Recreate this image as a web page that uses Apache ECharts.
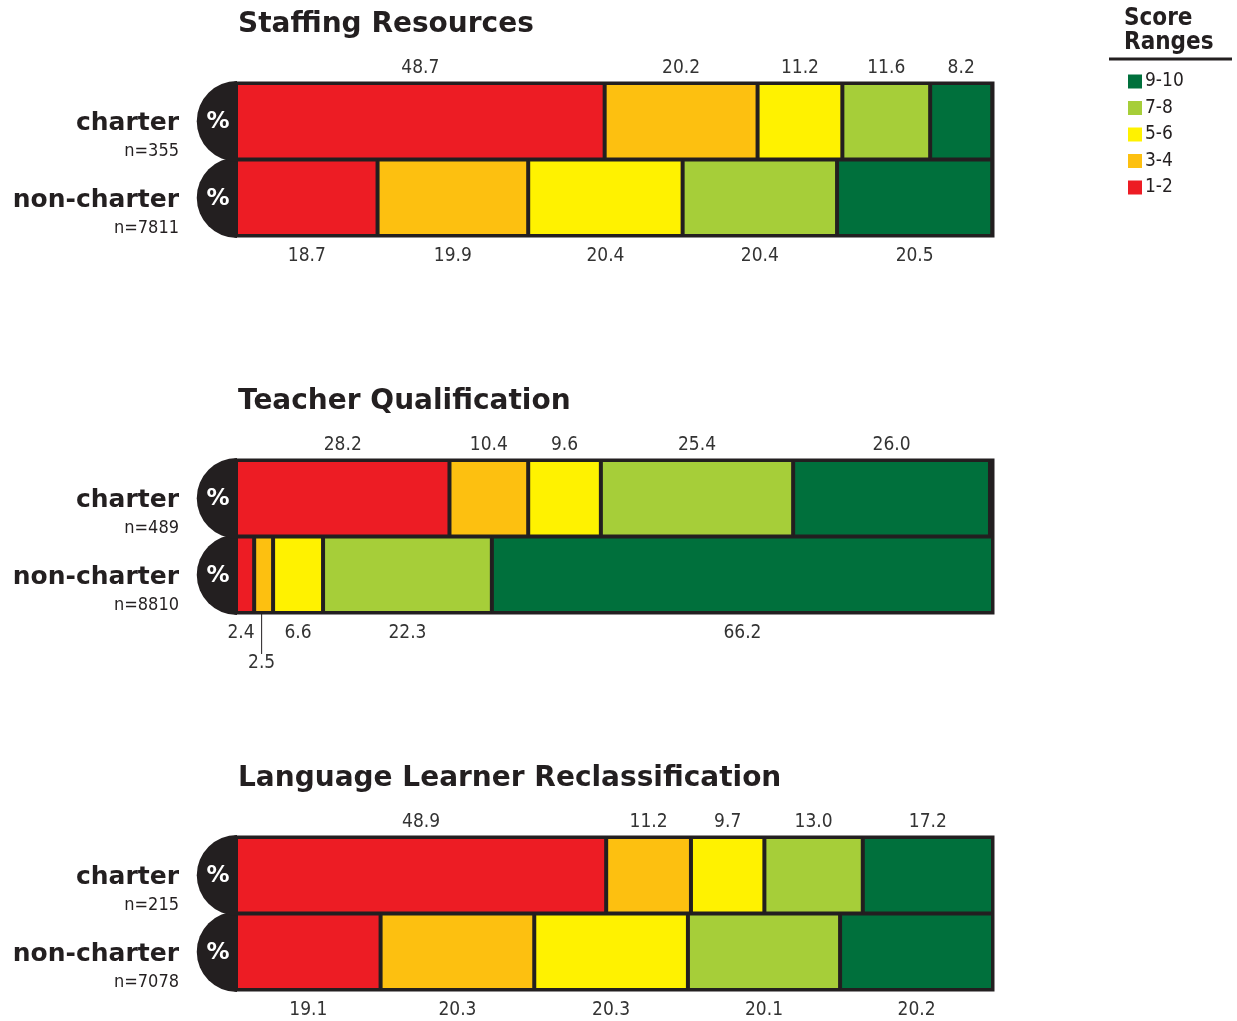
<!DOCTYPE html>
<html>
<head>
<meta charset="utf-8">
<script src="https://cdn.jsdelivr.net/npm/echarts@6/dist/echarts.min.js"></script>
<style>
  html, body { margin: 0; padding: 0; background: #fff; }
  #chart { width: 1237px; height: 1021px; }
</style>
</head>
<body>
<div id="chart"></div>
<script>
// 数据
const categories = ["non-charter", "charter"];
const ranges = ["1-2", "3-4", "5-6", "7-8", "9-10"];
const legendOrder = ["9-10", "7-8", "5-6", "3-4", "1-2"];
const colors = ["#ED1C24", "#FDC010", "#FFF200", "#A6CE39", "#00703C"];
const panelTitles = ["Staffing Resources", "Teacher Qualification", "Language Learner Reclassification"];
const sampleSizes = [[7811, 355], [8810, 489], [7078, 215]];

const staffingCharter = [48.7, 20.2, 11.2, 11.6, 8.2];
const staffingNon = [18.7, 19.9, 20.4, 20.4, 20.5];
const teacherCharter = [28.2, 10.4, 9.6, 25.4, 26.0];
const teacherNon = [2.4, 2.5, 6.6, 22.3, 66.2];
const languageCharter = [48.9, 11.2, 9.7, 13.0, 17.2];
const languageNon = [19.1, 20.3, 20.3, 20.1, 20.2];

const charterData = [staffingCharter, teacherCharter, languageCharter];
const nonData = [staffingNon, teacherNon, languageNon];

const DARK = "#231F20";
const NARROW = "'DejaVu Sans Condensed', 'Liberation Sans Narrow', sans-serif";
const HEAVY = "'DejaVu Sans', 'Liberation Sans', sans-serif";

const chart = echarts.init(document.getElementById("chart"));

const panelTops = [83, 460, 837];
const grids = [], xAxes = [], yAxes = [], titles = [], series = [];

panelTops.forEach((top, p) => {
  grids.push({
    left: 236, right: 244, top: top, height: 153,
    show: true, borderColor: DARK, borderWidth: 3, backgroundColor: DARK
  });
  xAxes.push({ type: "value", gridIndex: p, min: 0, max: 100, show: false });
  yAxes.push({
    type: "category", gridIndex: p, data: categories,
    axisLine: { show: false }, axisTick: { show: false },
    axisLabel: {
      margin: 57,
      formatter: (val, idx) => `{s|\u00a0}\n{a|${val}}\n{b|n=${sampleSizes[p][idx]}}`,
      rich: {
        s: { fontSize: 4, lineHeight: 33 },
        a: { fontFamily: HEAVY, fontWeight: "bold", fontSize: 25, color: DARK, lineHeight: 28, align: "right" },
        b: { fontFamily: NARROW, fontSize: 18, color: DARK, lineHeight: 28, align: "right" }
      }
    }
  });
  titles.push({
    text: panelTitles[p], left: 233, top: top - 77,
    textStyle: { fontFamily: HEAVY, fontWeight: "bold", fontSize: 28, color: DARK }
  });

  ranges.forEach((name, r) => {
    const nonItem = { value: nonData[p][r], label: { position: "bottom", distance: 11 } };
    if (p === 1 && r === 1) {
      nonItem.labelLine = { show: true, lineStyle: { color: DARK, width: 1 } };
    }
    series.push({
      type: "bar", name: name, xAxisIndex: p, yAxisIndex: p, stack: "p" + p,
      barCategoryGap: "0%",
      itemStyle: { color: colors[r], borderColor: DARK, borderWidth: 2 },
      label: {
        show: true, position: "top", distance: 5,
        fontFamily: NARROW, fontSize: 19, color: "#333",
        formatter: d => d.value.toFixed(1)
      },
      labelLayout: (params) => {
        if (p === 1 && params.dataIndex === 0) {
          if (r === 0) return { dx: -4 };
          if (r === 1) return { dx: -2, dy: 30 };
        }
        return {};
      },
      data: [nonItem, { value: charterData[p][r] }]
    });
  });

  // 左侧 % 半圆
  series.push({
    type: "custom", xAxisIndex: p, yAxisIndex: p, z: 5, silent: true,
    data: [[0, 0], [0, 1]],
    renderItem: (params, api) => {
      const pt = api.coord([0, api.value(1)]);
      const h = api.size([0, 1])[1];
      const rad = h / 2 + 2;
      return {
        type: "group",
        children: [
          { type: "sector", shape: { cx: pt[0] + 1, cy: pt[1], r0: 0, r: rad, startAngle: Math.PI / 2, endAngle: Math.PI * 1.5, clockwise: true }, style: { fill: DARK } },
          { type: "text", style: { text: "%", x: pt[0] - 18, y: pt[1] + 1, align: "center", verticalAlign: "middle", fill: "#fff", font: "bold 23px 'DejaVu Sans', sans-serif" } }
        ]
      };
    }
  });
});

titles.push({
  text: "Score\nRanges", left: 1119, top: 2,
  textStyle: { fontFamily: NARROW, fontWeight: "bold", fontSize: 24, lineHeight: 24, color: DARK }
});

chart.setOption({
  animation: false,
  title: titles,
  grid: grids,
  xAxis: xAxes,
  yAxis: yAxes,
  legend: {
    data: legendOrder, orient: "vertical", left: 1123, top: 67,
    icon: "rect", itemWidth: 14, itemHeight: 14, itemGap: 7.5,
    itemStyle: { borderWidth: 0 },
    textStyle: { fontFamily: NARROW, fontSize: 19, color: DARK, padding: [0, 0, 0, -2] },
    selectedMode: false
  },
  graphic: [
    { type: "line", shape: { x1: 1109, y1: 59, x2: 1232, y2: 59 }, style: { stroke: DARK, lineWidth: 3 } }
  ],
  series: series
});
</script>
</body>
</html>
